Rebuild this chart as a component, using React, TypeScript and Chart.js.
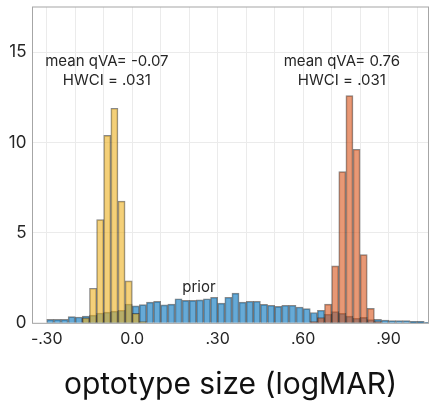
import React, { useEffect, useRef } from 'react';
import { Chart, registerables } from 'chart.js';

Chart.register(...registerables);

// Bin centres (bin width 0.025 logMAR) and bar heights
const priorBins = [
  -0.2875, -0.2625, -0.2375, -0.2125, -0.1875, -0.1625, -0.1375, -0.1125, -0.0875, -0.0625, -0.0375, -0.0125,
  0.0125, 0.0375, 0.0625, 0.0875, 0.1125, 0.1375, 0.1625, 0.1875, 0.2125, 0.2375, 0.2625, 0.2875,
  0.3125, 0.3375, 0.3625, 0.3875, 0.4125, 0.4375, 0.4625, 0.4875, 0.5125, 0.5375, 0.5625, 0.5875,
  0.6125, 0.6375, 0.6625, 0.6875, 0.7125, 0.7375, 0.7625, 0.7875, 0.8125, 0.8375, 0.8625, 0.8875,
  0.9125, 0.9375, 0.9625, 0.9875, 1.0125, 1.0375,
];
const priorValues = [
  0.22, 0.22, 0.22, 0.37, 0.35, 0.40, 0.45, 0.57, 0.62, 0.67, 0.72, 1.07,
  0.96, 1.03, 1.17, 1.21, 1.02, 1.06, 1.36, 1.27, 1.27, 1.30, 1.36, 1.44,
  1.12, 1.44, 1.67, 1.17, 1.22, 1.22, 1.05, 1.00, 0.94, 1.00, 1.00, 0.90,
  0.81, 0.60, 0.72, 0.50, 0.65, 0.55, 0.40, 0.28, 0.33, 0.20, 0.22, 0.18,
  0.15, 0.15, 0.15, 0.11, 0.11, 0.05,
];

const goodBins = [-0.1625, -0.1375, -0.1125, -0.0875, -0.0625, -0.0375, -0.0125, 0.0125, 0.0375];
const goodValues = [0.3, 1.94, 5.74, 10.4, 11.9, 6.76, 2.35, 0.55, 0.1];

const poorBins = [0.6375, 0.6625, 0.6875, 0.7125, 0.7375, 0.7625, 0.7875, 0.8125, 0.8375, 0.8625];
const poorValues = [0.1, 0.32, 1.06, 3.18, 8.39, 12.6, 9.63, 3.8, 0.83, 0.1];

const xGridTicks = [-0.3, -0.2, -0.1, 0, 0.1, 0.2, 0.3, 0.4, 0.5, 0.6, 0.7, 0.8, 0.9, 1.0];
const xTickLabels: Record<string, string> = { '-0.3': '-.30', '0': '0.0', '0.3': '.30', '0.6': '.60', '0.9': '.90' };
const yTicks = [0, 5, 10, 15];

const xTitle = 'optotype size (logMAR)';

const annotations = [
  { lines: ['mean qVA= -0.07', 'HWCI = .031'], x: -0.089, y: 14.5 },
  { lines: ['mean qVA= 0.76', 'HWCI = .031'], x: 0.736, y: 14.5 },
  { lines: ['prior'], x: 0.234, y: 1.96 },
];

const FONT = 'Inter, "Noto Sans", sans-serif';

const boxAndText = {
  id: 'boxAndText',
  afterDatasetsDraw(chart: any) {
    const { ctx, chartArea, scales } = chart;
    ctx.save();
    ctx.strokeStyle = '#a6a6a6';
    ctx.lineWidth = 1;
    ctx.strokeRect(chartArea.left, chartArea.top, chartArea.right - chartArea.left, chartArea.bottom - chartArea.top);
    ctx.fillStyle = '#262626';
    ctx.font = `15px ${FONT}`;
    ctx.textAlign = 'center';
    ctx.textBaseline = 'middle';
    for (const a of annotations) {
      const px = scales.x.getPixelForValue(a.x);
      const py = scales.y.getPixelForValue(a.y);
      a.lines.forEach((t, i) => ctx.fillText(t, px, py + i * 19));
    }
    ctx.restore();
  },
};

export default function App() {
  const ref = useRef<HTMLCanvasElement>(null);

  useEffect(() => {
    document.body.style.margin = '0';
    const canvas = ref.current!;
    const mk = (bins: number[], vals: number[]) => bins.map((b, i) => ({ x: b, y: vals[i] }));
    const chart = new Chart(canvas, {
      type: 'bar',
      data: {
        datasets: [
          {
            label: 'prior',
            data: mk(priorBins, priorValues),
            backgroundColor: 'rgba(0,114,189,0.6)',
            borderColor: 'rgba(40,40,40,0.55)',
            borderWidth: 1,
            order: 3,
          },
          {
            label: 'good',
            data: mk(goodBins, goodValues),
            backgroundColor: 'rgba(237,177,32,0.6)',
            borderColor: 'rgba(40,40,40,0.55)',
            borderWidth: 1,
            order: 2,
          },
          {
            label: 'poor',
            data: mk(poorBins, poorValues),
            backgroundColor: 'rgba(217,83,25,0.6)',
            borderColor: 'rgba(40,40,40,0.55)',
            borderWidth: 1,
            order: 1,
          },
        ] as any,
      },
      options: {
        animation: false,
        responsive: false,
        devicePixelRatio: 1,
        datasets: { bar: { grouped: false, barPercentage: 1, categoryPercentage: 1 } } as any,
        layout: { padding: { top: 7, right: 1.5, left: 0, bottom: 0 } },
        plugins: { legend: { display: false }, tooltip: { enabled: false } },
        scales: {
          x: {
            type: 'linear',
            min: -0.35,
            max: 1.04,
            offset: false,
            afterBuildTicks: (s: any) => {
              s.ticks = xGridTicks.map((v) => ({ value: v }));
            },
            afterFit: (s: any) => {
              s.height = 86.7;
              s.paddingLeft = 0;
              s.paddingRight = 0;
            },
            ticks: {
              autoSkip: false,
              maxRotation: 0,
              padding: 6,
              color: '#262626',
              font: { family: FONT, size: 16 },
              callback: (v: any) => xTickLabels[String(Math.round(Number(v) * 10) / 10)] ?? '',
            },
            grid: { color: '#ebebeb', drawTicks: false, offset: false },
            border: { display: false },
            title: {
              display: true,
              text: xTitle,
              color: '#111',
              font: { family: FONT, size: 30 },
              padding: { top: 0, bottom: 7 },
            },
          },
          y: {
            min: 0,
            max: 17.5,
            afterBuildTicks: (s: any) => {
              s.ticks = yTicks.map((v) => ({ value: v }));
            },
            afterFit: (s: any) => {
              s.width = 32.5;
              s.paddingTop = 0;
              s.paddingBottom = 0;
            },
            ticks: {
              padding: 6,
              color: '#262626',
              font: { family: FONT, size: 17 },
            },
            grid: { color: '#ebebeb', drawTicks: false },
            border: { display: false },
          },
        } as any,
      },
      plugins: [boxAndText],
    });
    return () => chart.destroy();
  }, []);

  return (
    <div style={{ width: 430, height: 410 }}>
      <canvas ref={ref} width={430} height={410} />
    </div>
  );
}
